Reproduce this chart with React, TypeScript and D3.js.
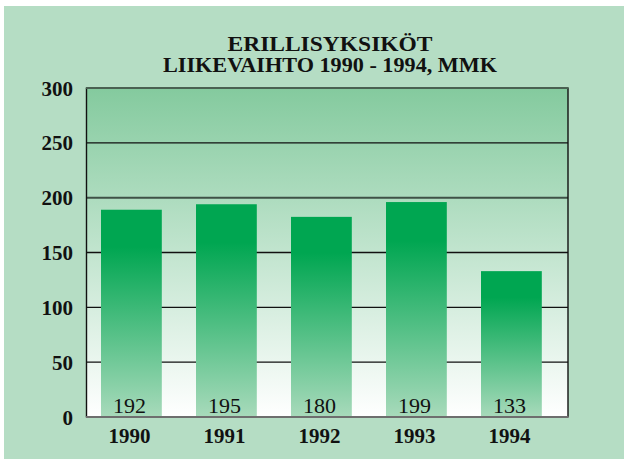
import React from "react";
import * as d3 from "d3";

const categories = ["1990", "1991", "1992", "1993", "1994"];
const barValues = [189, 194, 182.5, 196, 133];
const valueLabels = ["192", "195", "180", "199", "133"];
const yTicks = [0, 50, 100, 150, 200, 250, 300];
const titleLines = ["ERILLISYKSIKÖT", "LIIKEVAIHTO 1990 - 1994, MMK"];

const W = 624;
const H = 459;
const plot = { left: 86.5, right: 568, top: 88, bottom: 417 };
const SERIF = "Liberation Serif";

export default function App() {
  const y = d3.scaleLinear().domain([0, 300]).range([plot.bottom, plot.top]);
  const x = d3
    .scaleBand<string>()
    .domain(categories)
    .range([83.9, 558.9])
    .paddingInner(0.36)
    .paddingOuter(0.18);
  const bw = x.bandwidth();

  return (
    <svg
      width={W}
      height={H}
      style={{ position: "absolute", left: 0, top: 0, display: "block" }}
    >
      <defs>
        <linearGradient id="plotBg" x1="0" y1="0" x2="0" y2="1">
          <stop offset="0" stopColor="#84ca9e" />
          <stop offset="1" stopColor="#ffffff" />
        </linearGradient>
        <linearGradient id="barGrad" x1="0" y1="0" x2="0" y2="1">
          <stop offset="0" stopColor="#00a651" />
          <stop offset="0.18" stopColor="#00a651" />
          <stop offset="1" stopColor="#a8dabb" />
        </linearGradient>
      </defs>
      <rect x={0} y={0} width={W} height={H} fill="#ffffff" />
      <rect x={4} y={6} width={W - 4} height={H - 6} fill="#b5ddc4" />

      {titleLines.map((t, i) => (
        <text
          key={t}
          x={330}
          y={51 + i * 21}
          textAnchor="middle"
          style={{ fontFamily: SERIF, fontWeight: 700, fontSize: "21px" }}
          fill="#111"
          textLength={i === 0 ? 205 : 334}
          lengthAdjust="spacingAndGlyphs"
        >
          {t}
        </text>
      ))}

      <rect
        x={plot.left}
        y={plot.top}
        width={plot.right - plot.left}
        height={plot.bottom - plot.top}
        fill="url(#plotBg)"
      />

      {yTicks
        .filter((t) => t > 0 && t < 300)
        .map((t) => (
          <line
            key={t}
            x1={plot.left}
            x2={plot.right}
            y1={y(t)}
            y2={y(t)}
            stroke={t === 200 ? "#3f5247" : "#111"}
            strokeWidth={t === 200 ? 2 : 1.4}
          />
        ))}

      {categories.map((c, i) => (
        <rect
          key={c}
          x={x(c)}
          y={y(barValues[i])}
          width={bw}
          height={y(0) - y(barValues[i])}
          fill="url(#barGrad)"
        />
      ))}

      <line x1={plot.left} x2={plot.left} y1={plot.top} y2={plot.bottom} stroke="#111" strokeWidth={1.4} />
      <line x1={plot.right} x2={plot.right} y1={plot.top} y2={plot.bottom} stroke="#111" strokeWidth={1.4} />
      <line x1={plot.left - 0.7} x2={plot.right + 0.7} y1={plot.top} y2={plot.top} stroke="#4a6152" strokeWidth={2.2} />
      <line x1={plot.left - 0.7} x2={plot.right + 0.7} y1={plot.bottom} y2={plot.bottom} stroke="#6e6e6e" strokeWidth={2.2} />

      {categories.map((c, i) => (
        <text
          key={"v" + c}
          x={(x(c) as number) + bw / 2 - 2}
          y={412.5}
          textAnchor="middle"
          style={{ fontFamily: SERIF, fontWeight: 400, fontSize: "22px" }}
          fill="#111"
        >
          {valueLabels[i]}
        </text>
      ))}

      {categories.map((c) => (
        <text
          key={"x" + c}
          x={(x(c) as number) + bw / 2 - 2}
          y={442.5}
          textAnchor="middle"
          style={{ fontFamily: SERIF, fontWeight: 700, fontSize: "21px" }}
          fill="#111"
        >
          {c}
        </text>
      ))}

      {yTicks.map((t) => (
        <text
          key={"y" + t}
          x={73}
          y={y(t) + 7.5}
          textAnchor="end"
          style={{ fontFamily: SERIF, fontWeight: 700, fontSize: "21px" }}
          fill="#111"
        >
          {t}
        </text>
      ))}
    </svg>
  );
}
